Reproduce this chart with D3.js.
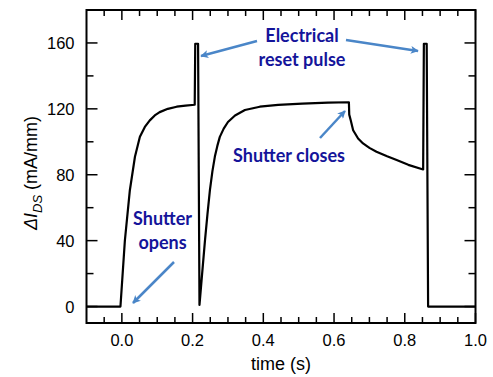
<!DOCTYPE html>
<html>
<head>
<meta charset="utf-8">
<script src="https://d3js.org/d3.v7.min.js"></script>
<style>
  body { margin: 0; background: #fff; }
  svg { display: block; }
</style>
</head>
<body>
<svg id="chart" width="493" height="377"></svg>
<script>
// trace: time (s) and delta I_DS (mA/mm)
const times  = [-0.1, -0.004, 0.0085, 0.0226, 0.037, 0.051, 0.065, 0.079, 0.093, 0.107,
                0.13, 0.155, 0.18, 0.206,
                0.2075, 0.2155, 0.2195,
                0.227, 0.235, 0.242, 0.249, 0.256, 0.263, 0.27, 0.277, 0.288, 0.30,
                0.32, 0.348, 0.39, 0.442, 0.51, 0.583, 0.642,
                0.643, 0.647, 0.654, 0.668, 0.682, 0.70, 0.72, 0.75, 0.777, 0.81, 0.852,
                0.854, 0.862, 0.866, 1.0];
const values = [0, 0, 40, 70.6, 90.9, 103, 109, 113, 116, 118,
                120, 121.3, 122, 122.5,
                159.5, 159.5, 1,
                20, 40, 56, 70.6, 82, 91, 97.5, 103, 108, 112,
                116, 119.3, 121.3, 122.4, 123.2, 123.8, 124,
                116.5, 113.2, 107, 102, 99, 96.3, 94, 91.2, 88.9, 86, 83.2,
                159.5, 159.5, 0, 0];

const xTicks = [0, 0.2, 0.4, 0.6, 0.8, 1.0];
const yTicks = [0, 40, 80, 120, 160];

const notes = [
  {lines: ["Electrical", "reset pulse"], x: 302, y: 42},
  {lines: ["Shutter closes"], x: 289, y: 162},
  {lines: ["Shutter", "opens"], x: 162.5, y: 225}
];
const arrows = [
  [257, 41, 201, 56],
  [346, 40, 418, 51],
  [320, 138, 345, 111],
  [174, 262, 133, 303]
];

const svg = d3.select("#chart");
const margin = {top: 10, right: 17.5, bottom: 54, left: 86.5};
const W = 493, H = 377;

const x = d3.scaleLinear().domain([-0.1, 1.0]).range([margin.left, W - margin.right]);
const y = d3.scaleLinear().domain([-10, 180]).range([H - margin.bottom, margin.top]);

const x0 = x.range()[0], x1 = x.range()[1];
const y0 = y.range()[0], y1 = y.range()[1];

// inward ticks on all four sides
const majorLen = 10, minorLen = 6;
const xAll = d3.range(-0.05, 1.0001, 0.05).map(v => Math.round(v * 100) / 100);
const yAll = d3.range(0, 180, 20);

const ticks = svg.append("g").attr("stroke", "#000").attr("stroke-width", 1.5);
xAll.forEach(v => {
  const major = Math.round(v * 100) % 20 === 0;
  const len = major ? majorLen : minorLen;
  ticks.append("line").attr("x1", x(v)).attr("x2", x(v)).attr("y1", y0).attr("y2", y0 - len);
  ticks.append("line").attr("x1", x(v)).attr("x2", x(v)).attr("y1", y1).attr("y2", y1 + len);
});
yAll.forEach(v => {
  const major = v % 40 === 0;
  const len = major ? majorLen + 1 : minorLen + 1;
  ticks.append("line").attr("y1", y(v)).attr("y2", y(v)).attr("x1", x0).attr("x2", x0 + len);
  ticks.append("line").attr("y1", y(v)).attr("y2", y(v)).attr("x1", x1).attr("x2", x1 - len);
});

// frame
svg.append("rect")
  .attr("x", x0).attr("y", y1)
  .attr("width", x1 - x0).attr("height", y0 - y1)
  .attr("fill", "none").attr("stroke", "#000").attr("stroke-width", 2);

// tick labels
svg.append("g").selectAll("text")
  .data(xTicks).join("text")
  .attr("x", d => x(d)).attr("y", 346)
  .attr("text-anchor", "middle")
  .style("font-family", "'Liberation Sans', Arial, sans-serif")
  .style("font-size", "16.5px")
  .text(d => d.toFixed(1));

svg.append("g").selectAll("text")
  .data(yTicks).join("text")
  .attr("x", 74.5).attr("y", d => y(d) + 6)
  .attr("text-anchor", "end")
  .style("font-family", "'Liberation Sans', Arial, sans-serif")
  .style("font-size", "16.5px")
  .text(d => d);

// axis titles
svg.append("text")
  .attr("x", (x0 + x1) / 2).attr("y", 370)
  .attr("text-anchor", "middle")
  .style("font-family", "'Liberation Sans', Arial, sans-serif")
  .style("font-size", "18px")
  .text("time (s)");

const yl = svg.append("text")
  .attr("transform", "translate(37,173) rotate(-90)")
  .attr("text-anchor", "middle")
  .style("font-family", "'Liberation Sans', Arial, sans-serif")
  .style("font-size", "18px");
yl.append("tspan").style("font-style", "italic").text("ΔI");
yl.append("tspan").style("font-style", "italic").style("font-size", "13px").attr("dy", 5).text("DS");
yl.append("tspan").attr("dy", -5).text(" (mA/mm)");

// the trace
const pts = times.map((t, i) => [t, values[i]]);
svg.append("path")
  .datum(pts)
  .attr("fill", "none")
  .attr("stroke", "#000")
  .attr("stroke-width", 2.2)
  .attr("stroke-linejoin", "round")
  .attr("d", d3.line().x(d => x(d[0])).y(d => y(d[1])));

// arrows
svg.append("defs").append("marker")
  .attr("id", "head")
  .attr("viewBox", "0 0 10 10")
  .attr("refX", 9).attr("refY", 5)
  .attr("markerWidth", 3.2).attr("markerHeight", 3.2)
  .attr("orient", "auto")
  .append("path").attr("d", "M0,0 L10,5 L0,10 L2.5,5 Z").attr("fill", "#4a86c8");

svg.append("g").selectAll("line")
  .data(arrows).join("line")
  .attr("x1", d => d[0]).attr("y1", d => d[1])
  .attr("x2", d => d[2]).attr("y2", d => d[3])
  .attr("stroke", "#4a86c8").attr("stroke-width", 2.5)
  .attr("marker-end", "url(#head)");

// annotations
notes.forEach(n => {
  const t = svg.append("text")
    .attr("text-anchor", "middle")
    .style("font-family", "Lato, 'Open Sans', sans-serif")
    .style("font-weight", "bold")
    .style("font-size", "18px")
    .attr("fill", "#14149a");
  n.lines.forEach((s, i) => {
    t.append("tspan").attr("x", n.x).attr("y", n.y + i * 23.5).text(s);
  });
});
</script>
</body>
</html>
